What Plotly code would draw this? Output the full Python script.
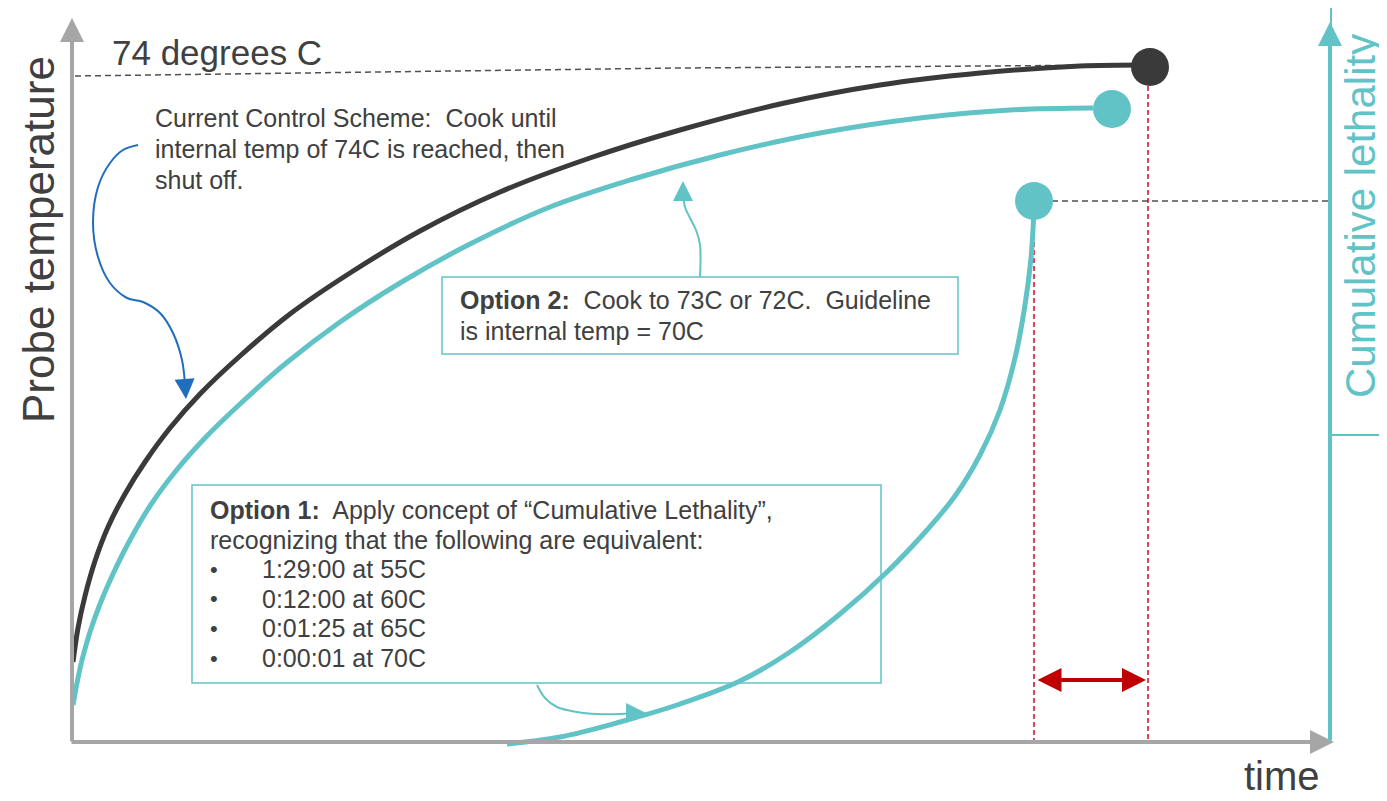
import plotly.graph_objects as go

# ---- data (schematic units: time to the right, level measured downward from top) ----
black_time = [73, 78, 85, 95, 108, 125, 145, 170, 200, 240, 290, 350, 420, 500, 590, 680, 780, 880, 980, 1080, 1148]
black_level = [662, 628, 596, 561, 527, 494, 462, 428, 394, 356, 314, 273, 231, 192, 158, 130, 104, 85, 73, 66, 65]

teal_time = [73, 77, 82, 90, 100, 113, 130, 150, 175, 205, 240, 285, 340, 400, 470, 550, 630, 720, 820, 920, 1010, 1093]
teal_level = [705, 683, 660, 632, 604, 574, 540, 506, 472, 438, 404, 364, 322, 283, 244, 207, 180, 155, 133, 118, 110, 108]

lethal_time = [507, 560, 620, 680, 740, 790, 840, 887, 927, 955, 980, 1000, 1015, 1025, 1031, 1034]
lethal_level = [744, 737, 722, 704, 681, 652, 614, 572, 530, 496, 455, 410, 358, 305, 258, 210]

end_time = [1150, 1112, 1034]
end_level = [67, 109, 201]

ref74_time = [75, 680, 1135]
ref74_level = [76, 68, 65]

lethal_ref_time = [1052, 1330]
lethal_ref_level = [201, 201]

red_x = [1034, 1148]
red_top = [218, 86]

blue_time = [138, 123, 110, 98, 93, 98, 110, 127, 143, 160, 173, 182, 185]
blue_level = [145, 150, 163, 187, 223, 257, 283, 298, 302, 313, 333, 360, 385]

opt2_time = [700, 700, 696, 690, 685, 683]
opt2_level = [277, 245, 230, 218, 207, 193]

opt1_time = [537, 545, 557, 577, 597, 620, 633]
opt1_level = [685, 698, 707, 712, 714, 714, 713]

option1_lines = [
    "<b>Option 1:</b>  Apply concept of \u201cCumulative Lethality\u201d,",
    "recognizing that the following are equivalent:",
]
equiv_items = ["1:29:00 at 55C", "0:12:00 at 60C", "0:01:25 at 65C", "0:00:01 at 70C"]
option2_lines = ["<b>Option 2:</b>  Cook to 73C or 72C.  Guideline", "is internal temp = 70C"]
ccs_lines = ["Current Control Scheme:  Cook until", "internal temp of 74C is reached, then", "shut off."]

TEAL = "#62c3c7"
DARK = "#3a3a3a"
GRAY = "#a6a6a6"
TXT = "#404040"
RED = "#cc0a2a"
FONT = "Liberation Sans, Arial, sans-serif"

fig = go.Figure()

# reference dashed lines
fig.add_trace(go.Scatter(x=ref74_time, y=ref74_level, mode="lines",
                         line=dict(color="#505050", width=1.5, dash="6px,4px")))
fig.add_trace(go.Scatter(x=lethal_ref_time, y=lethal_ref_level, mode="lines",
                         line=dict(color="#505050", width=1.5, dash="6px,4px")))
for xv, top in zip(red_x, red_top):
    fig.add_trace(go.Scatter(x=[xv, xv], y=[top, 743], mode="lines",
                             line=dict(color=RED, width=1.5, dash="5px,3px")))

# curves
fig.add_trace(go.Scatter(x=black_time, y=black_level, mode="lines",
                         line=dict(color=DARK, width=5, shape="spline", smoothing=1)))
fig.add_trace(go.Scatter(x=teal_time, y=teal_level, mode="lines",
                         line=dict(color=TEAL, width=5, shape="spline", smoothing=1)))
fig.add_trace(go.Scatter(x=lethal_time, y=lethal_level, mode="lines",
                         line=dict(color=TEAL, width=5, shape="spline", smoothing=1)))

# pointer curves
fig.add_trace(go.Scatter(x=blue_time, y=blue_level, mode="lines",
                         line=dict(color="#1f6dbd", width=2, shape="spline")))
fig.add_trace(go.Scatter(x=opt2_time, y=opt2_level, mode="lines",
                         line=dict(color=TEAL, width=2, shape="spline")))
fig.add_trace(go.Scatter(x=opt1_time, y=opt1_level, mode="lines",
                         line=dict(color=TEAL, width=2, shape="spline")))

# end dots
fig.add_trace(go.Scatter(x=end_time, y=end_level, mode="markers",
                         marker=dict(size=38, color=[DARK, TEAL, TEAL], line=dict(width=0))))


def arrow(x, y, ax, ay, color, width, head=2, size=1.0, side="end"):
    fig.add_annotation(x=x, y=y, ax=ax, ay=ay, xref="x", yref="y", axref="x", ayref="y",
                       text="", showarrow=True, arrowhead=head, arrowsize=size,
                       arrowwidth=width, arrowcolor=color, arrowside=side, standoff=0)


# axes
arrow(72, 18, 72, 743, GRAY, 4, head=2, size=1.2)
arrow(1334, 742, 70, 742, GRAY, 4, head=2, size=1.2)
arrow(1330, 22, 1330, 742, TEAL, 4, head=2, size=1.2)

# pointer arrowheads
arrow(186, 399, 185, 385, "#1f6dbd", 2, head=2, size=2)
arrow(683, 181, 683, 193, TEAL, 2, head=2, size=2)
arrow(646, 713, 633, 713, TEAL, 2, head=2, size=2)

# red double arrow
arrow(1146, 680, 1036, 680, "#c00000", 4, head=2, size=1.2, side="end+start")

# boxes
fig.add_shape(type="rect", x0=442, x1=958, y0=277, y1=354, xref="x", yref="y",
              line=dict(color=TEAL, width=1.5))
fig.add_shape(type="rect", x0=192, x1=881, y0=485, y1=683, xref="x", yref="y",
              line=dict(color=TEAL, width=1.5))
fig.add_shape(type="rect", x0=1331, x1=1420, y0=7, y1=435, xref="x", yref="y",
              line=dict(color=TEAL, width=2))


def label(x, y, text, size, color=TXT, anchor="left", angle=0, yanchor="middle"):
    fig.add_annotation(x=x, y=y, xref="x", yref="y", text=text, showarrow=False,
                       xanchor=anchor, yanchor=yanchor, textangle=angle,
                       font=dict(family=FONT, size=size, color=color))


label(110, 52, "74 degrees C", 35)
for i, t in enumerate(ccs_lines):
    label(153, 118 + i * 31, t, 25)
for i, t in enumerate(option2_lines):
    label(458, 300 + i * 31, t, 25)
for i, t in enumerate(option1_lines):
    label(208, 510 + i * 29.7, t, 25)
for i, t in enumerate(equiv_items):
    label(208, 569 + i * 29.7, "\u2022", 22)
    label(260, 569 + i * 29.7, t, 25)

label(38, 240, "Probe temperature", 44, anchor="center", angle=-90)
label(1360, 216, "Cumulative lethality", 42, color=TEAL, anchor="center", angle=-90)
label(1282, 800, "time", 40, anchor="center", yanchor="bottom")

# the page adds an 8px body margin, so the drawing area starts at 8,8
fig.update_layout(
    width=1379, height=793,
    margin=dict(l=0, r=0, t=0, b=0),
    paper_bgcolor="white", plot_bgcolor="white",
    showlegend=False,
    xaxis=dict(range=[8, 1387], visible=False, fixedrange=True),
    yaxis=dict(range=[801, 8], visible=False, fixedrange=True),
)

fig.write_html("out.html")
